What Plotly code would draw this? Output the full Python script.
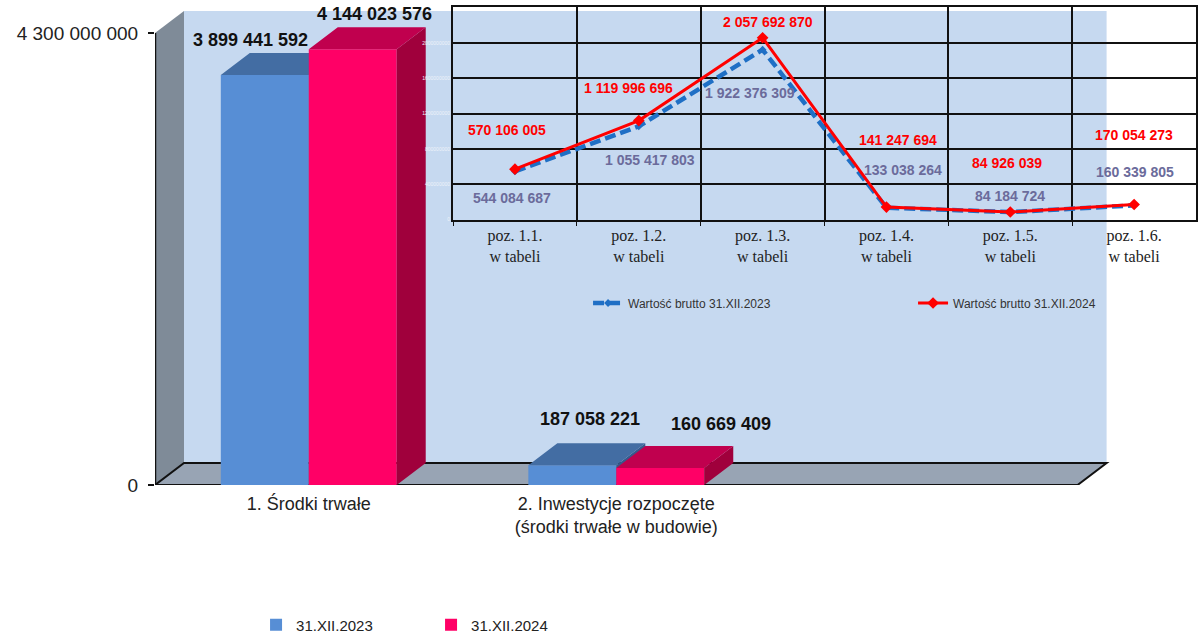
import plotly.graph_objects as go

# =====================
# Data
# =====================
categories = ["1. Środki trwałe", "2. Inwestycje rozpoczęte<br>(środki trwałe w budowie)"]
series_names = ["31.XII.2023", "31.XII.2024"]
values_2023 = [3899441592, 187058221]
values_2024 = [4144023576, 160669409]
y_ticks = [0, 4300000000]

positions = ["poz. 1.1.<br>w tabeli", "poz. 1.2.<br>w tabeli", "poz. 1.3.<br>w tabeli",
             "poz. 1.4.<br>w tabeli", "poz. 1.5.<br>w tabeli", "poz. 1.6.<br>w tabeli"]
line_names = ["Wartość brutto 31.XII.2023", "Wartość brutto 31.XII.2024"]
brutto_2023 = [544084687, 1055417803, 1922376309, 133038264, 84184724, 160339805]
brutto_2024 = [570106005, 1119996696, 2057692870, 141247694, 84926039, 170054273]
inset_ticks = [0, 400000000, 800000000, 1200000000, 1600000000, 2000000000]

# =====================
# Styling / geometry of the fake 3D box
# =====================
FONT = "Liberation Sans, Arial, sans-serif"
BAR_W = 0.286
DX = 0.0943           # depth offset along x (category units)
DY = 0.2093e9         # depth offset along y (value units)
SLOTS = 3             # floor spans three category slots
X_RANGE = [-0.5, 2.898]
Y_RANGE = [0, 4.566e9]

blue = dict(front="#578ed5", top="#436da3", side="#36598c")
red = dict(front="#ff0066", top="#c0004e", side="#a0003c")

bar_label_shifts = [[(-14, 35), (18, 46)], [(22, 35), (61, 44)]]
red_shifts = [(-8, 39), (-10, 33), (5, 16), (12, 67), (-3, 49), (0, 69)]
gray_shifts = [(-3, -27), (11, -34), (-13, -43), (17, 38), (0, 16), (1, 33)]


def fmt(v):
    return f"{v:,}".replace(",", " ")


def faces(values, offset):
    """Top and right-side polygons of each bar (None separated)."""
    tx, ty, sx, sy = [], [], [], []
    for c, v in enumerate(values):
        l = c + offset
        r = l + BAR_W
        tx += [l, l + DX, r + DX, r, l, None]
        ty += [v, v + DY, v + DY, v, v, None]
        sx += [r, r, r + DX, r + DX, r, None]
        sy += [0, v, v + DY, DY, 0, None]
    return tx, ty, sx, sy


fig = go.Figure()

for i, (vals, col, xa, ya) in enumerate([(values_2023, blue, "x", "y"),
                                         (values_2024, red, "x2", "y2")]):
    offset = -BAR_W if i == 0 else 0
    fig.add_trace(go.Bar(
        x=list(range(len(vals))), y=vals, width=BAR_W, offset=offset,
        name=series_names[i], marker=dict(color=col["front"], line_width=0),
        xaxis=xa, yaxis=ya, legend="legend",
    ))
    tx, ty, sx, sy = faces(vals, offset)
    fig.add_trace(go.Scatter(x=sx, y=sy, fill="toself", fillcolor=col["side"], mode="none",
                             showlegend=False, hoverinfo="skip", xaxis=xa, yaxis=ya))
    fig.add_trace(go.Scatter(x=tx, y=ty, fill="toself", fillcolor=col["top"], mode="none",
                             showlegend=False, hoverinfo="skip", xaxis=xa, yaxis=ya))
    for c, v in enumerate(vals):
        fig.add_annotation(
            x=c + offset + BAR_W / 2, y=v, xref="x", yref="y", showarrow=False,
            text=f"<b>{fmt(v)}</b>", font=dict(family=FONT, size=18, color="#111111"),
            xshift=bar_label_shifts[i][c][0], yshift=bar_label_shifts[i][c][1],
        )

# inset line chart
fig.add_trace(go.Scatter(
    x=positions, y=brutto_2023, name=line_names[0], mode="lines+markers",
    line=dict(color="#1f6fc5", width=4.5, dash="11px,5px"),
    marker=dict(symbol="diamond", size=6, color="#1f6fc5"),
    xaxis="x3", yaxis="y3", legend="legend2",
))
fig.add_trace(go.Scatter(
    x=positions, y=brutto_2024, name=line_names[1], mode="lines+markers",
    line=dict(color="#ff0000", width=3),
    marker=dict(symbol="diamond", size=9, color="#ff0000"),
    xaxis="x3", yaxis="y3", legend="legend3",
))

for vals, shifts, color in [(brutto_2023, gray_shifts, "#6b6b9b"),
                            (brutto_2024, red_shifts, "#ff0000")]:
    for p, v, (sx_, sy_) in zip(positions, vals, shifts):
        fig.add_annotation(
            x=p, y=v, xref="x3", yref="y3", showarrow=False,
            text=f"<b>{fmt(v)}</b>", font=dict(family=FONT, size=14, color=color),
            xshift=sx_, yshift=sy_,
        )

# =====================
# Walls / floor
# =====================
x0 = X_RANGE[0]
x1 = x0 + SLOTS
top = y_ticks[-1]
fig.add_shape(type="path", xref="x", yref="y", layer="below", line_width=0,
              fillcolor="#7f8b98",
              path=f"M{x0},0 L{x0},{top} L{x0 + DX},{top + DY} L{x0 + DX},{DY} Z")
fig.add_shape(type="rect", xref="x", yref="y", layer="below", line_width=0,
              fillcolor="#c6d9f0", x0=x0 + DX, x1=x1 + DX, y0=DY, y1=top + DY)
fig.add_shape(type="path", xref="x", yref="y", layer="below",
              line=dict(color="#111111", width=2), fillcolor="#98a4b4",
              path=f"M{x0},0 L{x0 + DX},{DY} L{x1 + DX},{DY} L{x1},0 Z")
fig.add_shape(type="line", xref="x", yref="y", x0=x0, x1=x0, y0=0, y1=top,
              line=dict(color="#111111", width=2.5))

# =====================
# Layout
# =====================
legend_common = dict(orientation="h", xanchor="left", yanchor="middle",
                     bgcolor="rgba(0,0,0,0)")

fig.update_layout(
    width=1204, height=635,
    margin=dict(l=155, r=4, t=5, b=150, autoexpand=False),
    paper_bgcolor="white", plot_bgcolor="rgba(0,0,0,0)",
    font=dict(family=FONT, color="#222222"),
    hovermode="closest",
    xaxis=dict(range=X_RANGE, tickvals=list(range(len(categories))), ticktext=categories,
               showgrid=False, zeroline=False, showline=False, ticks="",
               tickfont=dict(size=18, color="#222222"), ticklabelstandoff=6),
    yaxis=dict(range=Y_RANGE, tickvals=y_ticks, ticktext=[fmt(t) for t in y_ticks],
               showgrid=False, zeroline=False, ticks="outside", ticklen=6, tickwidth=2,
               tickcolor="#111111", tickfont=dict(size=19, color="#222222"),
               ticklabelstandoff=6),
    xaxis2=dict(range=X_RANGE, overlaying="x", anchor="y2", visible=False),
    yaxis2=dict(range=Y_RANGE, overlaying="y", anchor="x2", visible=False),
    xaxis3=dict(domain=[0.2852, 0.9962], anchor="y3", type="category",
                range=[-0.5, len(positions) - 0.5],
                tickson="boundaries", showgrid=True, gridcolor="#111111", gridwidth=2,
                showline=True, linecolor="#111111", linewidth=2, mirror=True,
                ticks="outside", ticklen=4, tickcolor="#111111",
                tickfont=dict(family="Liberation Serif, Times New Roman, serif",
                              size=16, color="#222222")),
    yaxis3=dict(domain=[0.5531, 0.9948], anchor="x3", range=[0, 2.4e9],
                tickvals=inset_ticks, ticktext=[str(t) for t in inset_ticks],
                showgrid=True, gridcolor="#111111", gridwidth=2, zeroline=False,
                showline=True, linecolor="#111111", linewidth=2, mirror=True,
                tickfont=dict(size=5, color="#eef3fa")),
    legend=dict(legend_common, x=0.0967, y=-0.2917,
                font=dict(size=15, color="#222222"),
                entrywidth=130, entrywidthmode="pixels"),
    legend2=dict(legend_common, x=0.4144, y=0.3792,
                 font=dict(size=12, color="#333333")),
    legend3=dict(legend_common, x=0.7254, y=0.3792,
                 font=dict(size=12, color="#333333")),
    showlegend=True,
)

fig.write_html("out.html", config={"displayModeBar": False},
               post_script="document.body.style.margin='0';")
